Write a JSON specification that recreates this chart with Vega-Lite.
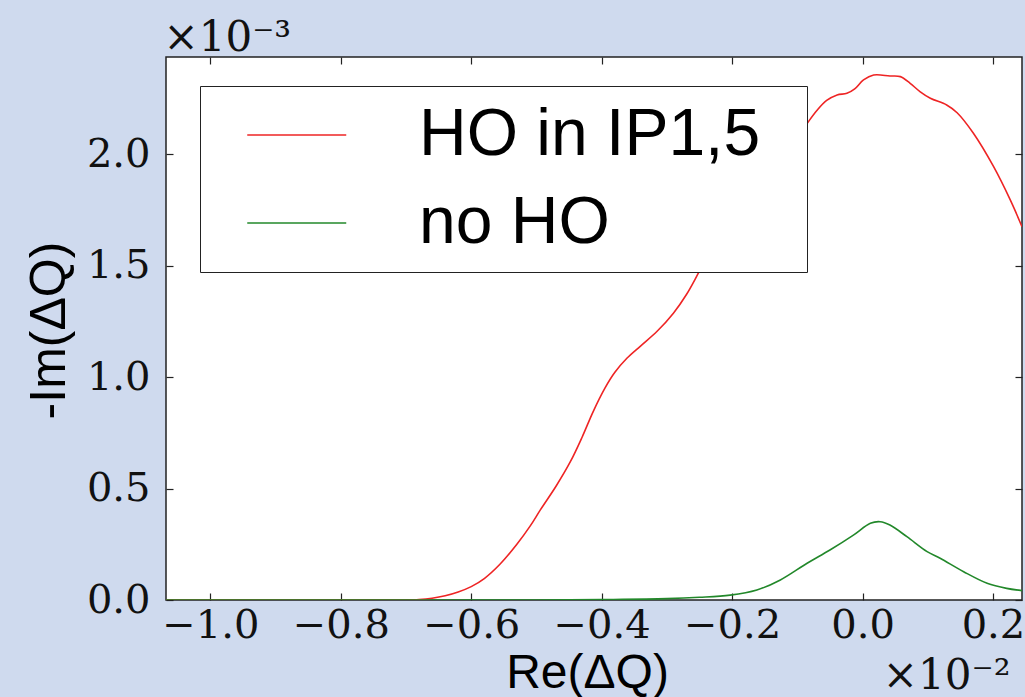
{
  "$schema": "https://vega.github.io/schema/vega-lite/v6.json",
  "width": 856,
  "height": 543,
  "autosize": {"type": "none"},
  "padding": {"left": 166, "top": 57, "right": 3, "bottom": 97},
  "background": "#cfdaee",
  "config": {
    "view": {"fill": "white", "stroke": "#222222", "strokeWidth": 1.5},
    "axis": {"grid": false, "domain": false}
  },
  "data": {
    "values": [
      {"series": "HO in IP1,5", "x": -1.068, "y": 0},
      {"series": "HO in IP1,5", "x": -0.9, "y": 0},
      {"series": "HO in IP1,5", "x": -0.76, "y": 0},
      {"series": "HO in IP1,5", "x": -0.70, "y": 0},
      {"series": "HO in IP1,5", "x": -0.68, "y": 0.002},
      {"series": "HO in IP1,5", "x": -0.66, "y": 0.008},
      {"series": "HO in IP1,5", "x": -0.64, "y": 0.019},
      {"series": "HO in IP1,5", "x": -0.62, "y": 0.036},
      {"series": "HO in IP1,5", "x": -0.60, "y": 0.06},
      {"series": "HO in IP1,5", "x": -0.58, "y": 0.096},
      {"series": "HO in IP1,5", "x": -0.556, "y": 0.16},
      {"series": "HO in IP1,5", "x": -0.53, "y": 0.25},
      {"series": "HO in IP1,5", "x": -0.51, "y": 0.33},
      {"series": "HO in IP1,5", "x": -0.494, "y": 0.404},
      {"series": "HO in IP1,5", "x": -0.47, "y": 0.51},
      {"series": "HO in IP1,5", "x": -0.448, "y": 0.62},
      {"series": "HO in IP1,5", "x": -0.43, "y": 0.73},
      {"series": "HO in IP1,5", "x": -0.413, "y": 0.845},
      {"series": "HO in IP1,5", "x": -0.395, "y": 0.95},
      {"series": "HO in IP1,5", "x": -0.38, "y": 1.02},
      {"series": "HO in IP1,5", "x": -0.361, "y": 1.085},
      {"series": "HO in IP1,5", "x": -0.34, "y": 1.14},
      {"series": "HO in IP1,5", "x": -0.315, "y": 1.205},
      {"series": "HO in IP1,5", "x": -0.29, "y": 1.286},
      {"series": "HO in IP1,5", "x": -0.27, "y": 1.37},
      {"series": "HO in IP1,5", "x": -0.249, "y": 1.48},
      {"series": "HO in IP1,5", "x": -0.22, "y": 1.63},
      {"series": "HO in IP1,5", "x": -0.19, "y": 1.77},
      {"series": "HO in IP1,5", "x": -0.16, "y": 1.89},
      {"series": "HO in IP1,5", "x": -0.13, "y": 1.99},
      {"series": "HO in IP1,5", "x": -0.10, "y": 2.075},
      {"series": "HO in IP1,5", "x": -0.085, "y": 2.137},
      {"series": "HO in IP1,5", "x": -0.07, "y": 2.195},
      {"series": "HO in IP1,5", "x": -0.055, "y": 2.24},
      {"series": "HO in IP1,5", "x": -0.039, "y": 2.265},
      {"series": "HO in IP1,5", "x": -0.024, "y": 2.272},
      {"series": "HO in IP1,5", "x": -0.012, "y": 2.292},
      {"series": "HO in IP1,5", "x": 0.0015, "y": 2.332},
      {"series": "HO in IP1,5", "x": 0.017, "y": 2.354},
      {"series": "HO in IP1,5", "x": 0.042, "y": 2.35},
      {"series": "HO in IP1,5", "x": 0.058, "y": 2.347},
      {"series": "HO in IP1,5", "x": 0.073, "y": 2.317},
      {"series": "HO in IP1,5", "x": 0.088, "y": 2.28},
      {"series": "HO in IP1,5", "x": 0.104, "y": 2.25},
      {"series": "HO in IP1,5", "x": 0.129, "y": 2.22},
      {"series": "HO in IP1,5", "x": 0.145, "y": 2.185},
      {"series": "HO in IP1,5", "x": 0.170, "y": 2.093},
      {"series": "HO in IP1,5", "x": 0.201, "y": 1.943},
      {"series": "HO in IP1,5", "x": 0.2265, "y": 1.794},
      {"series": "HO in IP1,5", "x": 0.2445, "y": 1.674},
      {"series": "no HO", "x": -1.068, "y": 0},
      {"series": "no HO", "x": -0.6, "y": 0},
      {"series": "no HO", "x": -0.5, "y": 0.0},
      {"series": "no HO", "x": -0.4, "y": 0.002},
      {"series": "no HO", "x": -0.3, "y": 0.006},
      {"series": "no HO", "x": -0.25, "y": 0.012},
      {"series": "no HO", "x": -0.203, "y": 0.022},
      {"series": "no HO", "x": -0.162, "y": 0.045},
      {"series": "no HO", "x": -0.126, "y": 0.09},
      {"series": "no HO", "x": -0.085, "y": 0.165},
      {"series": "no HO", "x": -0.05, "y": 0.224},
      {"series": "no HO", "x": -0.014, "y": 0.291},
      {"series": "no HO", "x": 0.012, "y": 0.344},
      {"series": "no HO", "x": 0.027, "y": 0.351},
      {"series": "no HO", "x": 0.042, "y": 0.336},
      {"series": "no HO", "x": 0.068, "y": 0.284},
      {"series": "no HO", "x": 0.099, "y": 0.217},
      {"series": "no HO", "x": 0.119, "y": 0.187},
      {"series": "no HO", "x": 0.155, "y": 0.127},
      {"series": "no HO", "x": 0.191, "y": 0.075},
      {"series": "no HO", "x": 0.221, "y": 0.052},
      {"series": "no HO", "x": 0.2445, "y": 0.042}
    ]
  },
  "resolve": {"axis": {"x": "independent", "y": "independent"}},
  "layer": [
    {
      "mark": {"type": "line", "strokeWidth": 1.6, "interpolate": "catmull-rom", "clip": true},
      "encoding": {
        "x": {
          "field": "x", "type": "quantitative",
          "scale": {"domain": [-1.068, 0.2445], "nice": false, "zero": false},
          "axis": {
            "orient": "bottom",
            "values": [-1.0, -0.8, -0.6, -0.4, -0.2, 0.0, 0.2],
            "format": ".1f",
            "labelFont": "DejaVu Serif", "labelFontSize": 40, "labelColor": "#111111",
            "labelPadding": 12, "labelOverlap": false, "labelFlush": false, "labelBound": false,
            "tickSize": -7, "tickColor": "#222222", "tickWidth": 1.2,
            "title": "Re(ΔQ)", "titleFont": "Liberation Sans", "titleFontSize": 48,
            "titleFontWeight": "normal", "titleColor": "#000000",
            "titleBaseline": "alphabetic", "titleY": 87, "titleX": 421
          }
        },
        "y": {
          "field": "y", "type": "quantitative",
          "scale": {"domain": [0, 2.435], "nice": false},
          "axis": {
            "orient": "left",
            "values": [0, 0.5, 1.0, 1.5, 2.0],
            "format": ".1f",
            "labelFont": "DejaVu Serif", "labelFontSize": 40, "labelColor": "#111111",
            "labelPadding": 23, "labelOverlap": false, "labelFlush": false, "labelBound": false,
            "tickSize": -7, "tickColor": "#222222", "tickWidth": 1.2,
            "title": "-Im(ΔQ)", "titleFont": "Liberation Sans", "titleFontSize": 50,
            "titleFontWeight": "normal", "titleColor": "#000000",
            "titleBaseline": "alphabetic", "titleAngle": 270, "titleX": -102, "titleY": 273
          }
        },
        "color": {
          "field": "series", "type": "nominal",
          "scale": {"domain": ["HO in IP1,5", "no HO"], "range": ["#ee2424", "#22882a"]},
          "legend": {
            "orient": "none", "legendX": 34, "legendY": 29,
            "title": "\u00a0", "titleOrient": "right", "titleFontSize": 10, "titlePadding": 31,
            "fillColor": "white", "strokeColor": "#222222",
            "padding": 16, "cornerRadius": 0,
            "symbolType": "M-1,0H3", "symbolSize": 2450, "symbolStrokeWidth": 1.6,
            "symbolOffset": 23,
            "labelFont": "Liberation Sans", "labelFontSize": 66, "labelColor": "#000000",
            "labelOffset": 114, "labelLimit": 0, "rowPadding": 22
          }
        }
      }
    },
    {
      "mark": {"type": "line", "strokeOpacity": 0, "clip": true},
      "encoding": {
        "detail": {"field": "series", "type": "nominal"},
        "x": {
          "field": "x", "type": "quantitative",
          "scale": {"domain": [-1.068, 0.2445], "nice": false, "zero": false},
          "axis": {
            "orient": "top", "values": [-1.0, -0.8, -0.6, -0.4, -0.2, 0.0, 0.2],
            "labels": false, "title": null,
            "tickSize": -7, "tickColor": "#222222", "tickWidth": 1.2
          }
        },
        "y": {
          "field": "y", "type": "quantitative",
          "scale": {"domain": [0, 2.435], "nice": false},
          "axis": {
            "orient": "right", "values": [0, 0.5, 1.0, 1.5, 2.0],
            "labels": false, "title": null,
            "tickSize": -7, "tickColor": "#222222", "tickWidth": 1.2
          }
        }
      }
    },
    {
      "mark": {"type": "line", "strokeOpacity": 0, "clip": true},
      "encoding": {
        "detail": {"field": "series", "type": "nominal"},
        "x": {
          "field": "x", "type": "quantitative",
          "scale": {"domain": [-1.068, 0.2445], "nice": false, "zero": false},
          "axis": {
            "orient": "bottom", "labels": false, "ticks": false,
            "title": "×10⁻²", "titleFont": "DejaVu Serif", "titleFontSize": 42,
            "titleFontWeight": "normal", "titleColor": "#111111",
            "titleAlign": "right", "titleBaseline": "alphabetic",
            "titleX": 844, "titleY": 88
          }
        },
        "y": {
          "field": "y", "type": "quantitative",
          "scale": {"domain": [0, 2.435], "nice": false},
          "axis": {
            "orient": "left", "labels": false, "ticks": false,
            "title": "×10⁻³", "titleFont": "DejaVu Serif", "titleFontSize": 42,
            "titleFontWeight": "normal", "titleColor": "#111111",
            "titleAngle": 0, "titleAlign": "left", "titleBaseline": "alphabetic",
            "titleX": -3, "titleY": -7
          }
        }
      }
    }
  ]
}
